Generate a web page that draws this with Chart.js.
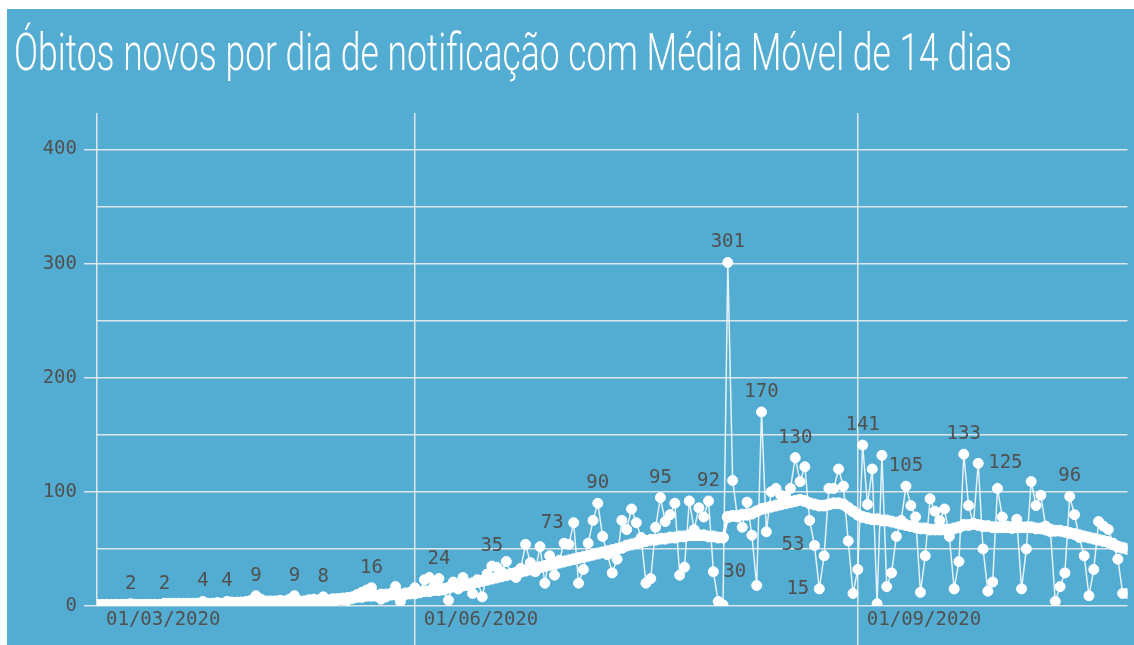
<!DOCTYPE html>
<html lang="pt-BR">
<head>
<meta charset="utf-8">
<title>Óbitos novos por dia de notificação</title>
<script src="https://cdn.jsdelivr.net/npm/chart.js@4.4.1/dist/chart.umd.min.js"></script>
<style>
  html, body { margin: 0; padding: 0; background: #fff; overflow: hidden; }
  #painel { position: absolute; left: 7px; top: 9px; width: 1127px; height: 636px; background: #53acd1; }
  canvas { display: block; }
</style>
</head>
<body>
<div id="painel"><canvas id="grafico" width="1127" height="636"></canvas></div>
<script>
// Título do gráfico
const titulo = 'Óbitos novos por dia de notificação com Média Móvel de 14 dias';

// Eixo X: dia (índice) e rótulos das datas
const diasTicks = [0, 66, 158];
const rotulosTicks = ['01/03/2020', '01/06/2020', '01/09/2020'];

// Eixo Y: linhas de grade
const linhasY = [0, 50, 100, 150, 200, 250, 300, 350, 400];

// Óbitos novos por dia
const obitos = [
  0, 0, 1, 0, 1, 0, 1, 2, 0, 1,
  1, 0, 1, 1, 2, 1, 1, 2, 1, 2,
  1, 2, 4, 2, 1, 3, 2, 4, 3, 2,
  3, 4, 5, 9, 6, 1, 0, 4, 5, 3,
  6, 9, 4, 2, 5, 6, 4, 8, 5, 3,
  6, 7, 5, 8, 10, 12, 14, 16, 9, 6,
  8, 11, 17, 4, 10, 12, 16, 12, 23, 25,
  18, 24, 14, 5, 21, 15, 25, 18, 11, 23,
  8, 28, 35, 34, 30, 39, 28, 25, 33, 54,
  38, 30, 52, 20, 44, 27, 40, 55, 54, 73,
  20, 32, 55, 75, 90, 61, 45, 29, 41, 75,
  67, 85, 73, 60, 20, 24, 69, 95, 74, 80,
  90, 27, 34, 92, 67, 86, 78, 92, 30, 4,
  1, 301, 110, 78, 69, 91, 62, 18, 170, 65,
  100, 103, 97, 96, 103, 130, 109, 122, 75, 53,
  15, 44, 103, 103, 120, 105, 57, 11, 32, 141,
  89, 120, 2, 132, 17, 29, 61, 75, 105, 88,
  78, 12, 44, 94, 83, 75, 85, 61, 15, 39,
  133, 88, 72, 125, 50, 13, 21, 103, 78, 70,
  68, 76, 15, 50, 109, 88, 97, 70, 65, 4,
  17, 29, 96, 80, 60, 44, 9, 32, 74, 70,
  67, 55, 41, 11, 11
];

// Média móvel de 14 dias
const mediaMovel = [
  1, 1, 1, 1, 1, 1, 1, 1, 1, 1,
  1, 1, 1, 1, 2, 2, 2, 2, 2, 2,
  2, 2, 2, 2, 2, 2, 2, 3, 3, 3,
  3, 3, 3, 3, 3, 4, 4, 4, 4, 4,
  4, 4, 4, 4, 5, 5, 5, 5, 5, 6,
  6, 6, 7, 7, 8, 8, 9, 9, 9, 10,
  10, 10, 10, 10, 11, 11, 11, 12, 13, 13,
  14, 14, 15, 16, 17, 17, 18, 19, 20, 21,
  22, 23, 24, 25, 26, 27, 28, 29, 30, 31,
  32, 33, 34, 35, 36, 37, 38, 39, 40, 41,
  42, 43, 44, 45, 46, 47, 48, 49, 50, 51,
  53, 54, 55, 56, 57, 58, 58, 59, 59, 60,
  60, 61, 61, 62, 62, 62, 62, 61, 61, 60,
  60, 78, 79, 79, 80, 80, 81, 83, 85, 86,
  87, 88, 89, 90, 91, 92, 93, 92, 90, 89,
  88, 88, 89, 90, 90, 89, 86, 83, 80, 78,
  77, 76, 76, 75, 75, 74, 73, 72, 71, 70,
  69, 68, 68, 67, 67, 67, 67, 67, 68, 69,
  71, 71, 72, 71, 70, 70, 69, 69, 69, 69,
  69, 69, 69, 69, 69, 68, 68, 67, 67, 66,
  66, 65, 64, 63, 62, 61, 60, 59, 58, 57,
  56, 54, 52, 51, 50
];

// Dias que recebem rótulo de valor
const diasRotulados = [7, 14, 22, 27, 33, 41, 47, 57, 71, 82, 99, 104, 117, 127, 128, 131, 138, 145, 149, 150, 159, 168, 180, 183, 202];
// Lado do rótulo quando não fica acima do ponto
const ladoRotulo = { 99: 'left', 128: 'right', 149: 'left', 150: 'left', 183: 'right' };

const corGrade = 'rgba(236, 236, 236, 0.9)';
const corTexto = '#505050';
const fonteMono = '"DejaVu Sans Mono", "Liberation Mono", monospace';

// Plugin: título condensado
const tituloPlugin = {
  id: 'titulo',
  afterDraw(chart) {
    const ctx = chart.ctx;
    ctx.save();
    ctx.font = '300 52px Roboto, "Liberation Sans Narrow", "DejaVu Sans Condensed", sans-serif';
    ctx.fillStyle = '#ffffff';
    ctx.textBaseline = 'alphabetic';
    const largura = ctx.measureText(titulo).width;
    ctx.translate(7, 61);
    ctx.scale(998 / largura, 1);
    ctx.fillText(titulo, 0, 0);
    ctx.restore();
  }
};

// Plugin: rótulos dos valores
const rotulosPlugin = {
  id: 'rotulos',
  afterDatasetsDraw(chart) {
    const ctx = chart.ctx;
    const meta = chart.getDatasetMeta(1);
    ctx.save();
    ctx.font = '19px ' + fonteMono;
    ctx.fillStyle = corTexto;
    diasRotulados.forEach(d => {
      const p = meta.data[d];
      const texto = String(obitos[d]);
      const lado = ladoRotulo[d] || 'top';
      ctx.textBaseline = 'middle';
      if (lado === 'top') {
        ctx.textAlign = 'center';
        ctx.fillText(texto, p.x, p.y - 20);
      } else if (lado === 'left') {
        ctx.textAlign = 'right';
        ctx.fillText(texto, p.x - 10, p.y);
      } else {
        ctx.textAlign = 'left';
        ctx.fillText(texto, p.x + 10, p.y);
      }
    });
    ctx.restore();
  }
};

const ctx = document.getElementById('grafico').getContext('2d');
new Chart(ctx, {
  type: 'line',
  data: {
    datasets: [{
      label: 'Média Móvel de 14 dias',
      data: mediaMovel.map((v, i) => ({ x: i, y: v })),
      borderColor: '#ffffff',
      borderWidth: 3,
      pointRadius: 5.5,
      pointBorderWidth: 1,
      pointBackgroundColor: '#ffffff',
      pointBorderColor: '#ffffff',
      tension: 0
    }, {
      label: 'Óbitos novos',
      data: obitos.map((v, i) => ({ x: i, y: v })),
      borderColor: 'rgba(255, 255, 255, 0.85)',
      borderWidth: 1.5,
      pointRadius: 5,
      pointBorderWidth: 1,
      pointBackgroundColor: '#ffffff',
      pointBorderColor: '#ffffff',
      tension: 0
    }]
  },
  options: {
    responsive: false,
    animation: false,
    devicePixelRatio: 1,
    layout: { padding: { left: 0, top: 104, right: 4, bottom: 0 } },
    plugins: {
      legend: { display: false },
      tooltip: { enabled: false },
      title: { display: false }
    },
    scales: {
      x: {
        type: 'linear',
        min: 0,
        max: 214,
        afterBuildTicks: s => { s.ticks = diasTicks.map(v => ({ value: v })); },
        afterFit: s => { s.height = 39; s.paddingLeft = 0; s.paddingRight = 0; },
        border: { display: false },
        grid: {
          color: corGrade,
          lineWidth: 1.5,
          tickLength: 40,
          tickColor: c => (c.index === 0 ? 'transparent' : corGrade)
        },
        ticks: {
          autoSkip: false,
          maxRotation: 0,
          align: 'start',
          labelOffset: 9,
          padding: -37,
          color: corTexto,
          font: { family: fonteMono, size: 19 },
          callback: v => rotulosTicks[diasTicks.indexOf(v)]
        }
      },
      y: {
        min: 0,
        max: 432,
        afterBuildTicks: s => { s.ticks = linhasY.map(v => ({ value: v })); },
        afterFit: s => { s.width = 90; },
        border: { display: false },
        grid: {
          color: corGrade,
          lineWidth: 1.5,
          tickLength: 13,
          tickColor: c => (c.tick && c.tick.value % 100 === 0 ? corGrade : 'transparent')
        },
        ticks: {
          padding: 7,
          color: corTexto,
          font: { family: fonteMono, size: 19 },
          callback: v => (v % 100 === 0 ? v : '')
        }
      }
    }
  },
  plugins: [tituloPlugin, rotulosPlugin]
});
</script>
</body>
</html>
